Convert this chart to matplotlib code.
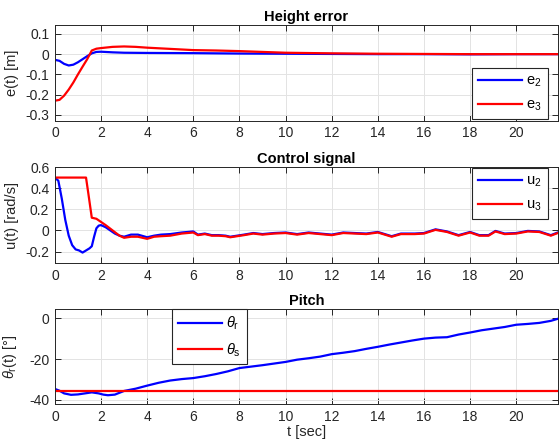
# Height error, control signal and pitch for the two vehicles
import numpy as np
import matplotlib.pyplot as plt

plt.rcParams['font.family'] = ['Liberation Sans', 'DejaVu Sans']
plt.rcParams['mathtext.fontset'] = 'custom'
plt.rcParams['mathtext.rm'] = 'Liberation Sans'
plt.rcParams['mathtext.it'] = 'Liberation Sans:italic'
plt.rcParams['axes.unicode_minus'] = False

# --- data ---
t_e2 = [0, 0.2, 0.4, 0.6, 0.8, 1.0, 1.2, 1.4, 1.6, 1.8, 2.0, 2.5, 3, 4, 6, 8, 10, 12, 14, 16, 18, 20, 21.8]
e2 = [-0.028, -0.033, -0.048, -0.056, -0.052, -0.040, -0.025, -0.010, 0.004, 0.011, 0.012, 0.009, 0.007,
      0.006, 0.005, 0.003, 0.002, 0.001, 0.0, 0.0, -0.001, 0.0, 0.0]

t_e3 = [0, 0.2, 0.4, 0.6, 0.8, 1.0, 1.2, 1.4, 1.6, 1.8, 2.0, 2.5, 3, 3.5, 4, 5, 6, 7, 8, 9, 10, 12, 14, 16, 18, 20, 21.8]
e3 = [-0.230, -0.226, -0.205, -0.175, -0.140, -0.100, -0.062, -0.025, 0.018, 0.027, 0.030, 0.036, 0.038,
      0.036, 0.032, 0.026, 0.020, 0.018, 0.015, 0.011, 0.007, 0.004, 0.002, 0.001, 0.0, 0.0, 0.0]

t_u2 = [0, 0.15, 0.3, 0.45, 0.6, 0.75, 0.9, 1.05, 1.2, 1.35, 1.5, 1.6, 1.7, 1.8, 1.9, 2.0, 2.1, 2.2, 2.4,
        2.6, 2.8, 3.0, 3.3, 3.6, 4.0, 4.3, 4.6, 5.0, 5.5, 6.0, 6.2, 6.5, 6.8, 7.1, 7.4, 7.6, 7.9, 8.2, 8.6,
        9.0, 9.5, 10.0, 10.5, 11.0, 11.5, 12.0, 12.5, 13.0, 13.5, 14.0, 14.6, 15.0, 15.6, 16.0, 16.5, 17.0,
        17.5, 18.0, 18.4, 18.8, 19.1, 19.5, 20.0, 20.5, 21.0, 21.5, 21.8]
u2 = [0.50, 0.47, 0.30, 0.10, -0.05, -0.14, -0.18, -0.19, -0.21, -0.19, -0.17, -0.15, -0.06, 0.02, 0.045,
      0.05, 0.04, 0.03, 0.0, -0.03, -0.05, -0.06, -0.04, -0.04, -0.065, -0.05, -0.04, -0.035, -0.02, -0.01,
      -0.04, -0.03, -0.045, -0.045, -0.05, -0.06, -0.05, -0.04, -0.025, -0.035, -0.025, -0.02, -0.035,
      -0.02, -0.03, -0.04, -0.02, -0.025, -0.03, -0.015, -0.055, -0.03, -0.03, -0.025, 0.01, -0.01,
      -0.045, -0.015, -0.045, -0.045, -0.005, -0.03, -0.025, -0.005, -0.01, -0.045, -0.02]

t_u3 = [0, 0.5, 1.0, 1.35, 1.45, 1.6, 1.8, 2.0, 2.2, 2.5, 2.8, 3.0, 3.3, 3.6, 4.0, 4.3, 4.6, 5.0, 5.5, 6.0,
        6.2, 6.5, 6.8, 7.1, 7.4, 7.6, 7.9, 8.2, 8.6, 9.0, 9.5, 10.0, 10.5, 11.0, 11.5, 12.0, 12.5, 13.0,
        13.5, 14.0, 14.6, 15.0, 15.6, 16.0, 16.5, 17.0, 17.5, 18.0, 18.4, 18.8, 19.1, 19.5, 20.0, 20.5,
        21.0, 21.5, 21.8]
u3 = [0.50, 0.50, 0.50, 0.50, 0.35, 0.12, 0.11, 0.08, 0.05, 0.0, -0.05, -0.07, -0.06, -0.06, -0.08, -0.06,
      -0.055, -0.05, -0.03, -0.02, -0.045, -0.035, -0.05, -0.05, -0.055, -0.065, -0.055, -0.045, -0.03,
      -0.04, -0.03, -0.025, -0.04, -0.025, -0.035, -0.045, -0.025, -0.03, -0.035, -0.02, -0.06, -0.035,
      -0.035, -0.03, 0.005, -0.015, -0.05, -0.02, -0.05, -0.05, -0.01, -0.035, -0.03, -0.01, -0.015,
      -0.05, -0.025]

t_th = [0, 0.2, 0.4, 0.7, 1.0, 1.3, 1.6, 1.9, 2.1, 2.3, 2.6, 3.0, 3.5, 4.0, 4.5, 5.0, 5.5, 6.0, 6.5, 7.0,
        7.5, 8.0, 8.5, 9.0, 9.5, 10.0, 10.5, 11.0, 11.5, 12.0, 12.5, 13.0, 13.5, 14.0, 14.5, 15.0, 15.5,
        16.0, 16.5, 17.0, 17.5, 18.0, 18.5, 19.0, 19.5, 20.0, 20.5, 21.0, 21.5, 21.8]
theta_r = [-34.6, -35.5, -36.8, -37.5, -37.3, -36.8, -36.3, -36.8, -37.4, -37.7, -37.4, -35.6, -34.5,
           -33.0, -31.6, -30.5, -29.8, -29.3, -28.4, -27.3, -26.0, -24.4, -23.7, -23.0, -22.2, -21.4,
           -20.3, -19.6, -18.8, -17.6, -16.9, -16.1, -15.0, -14.0, -12.9, -11.9, -10.9, -10.0, -9.5, -9.3,
           -8.0, -7.0, -5.9, -5.1, -4.3, -3.2, -2.8, -2.3, -1.3, -0.3]
t_ths = [0, 21.8]
theta_s = [-35.5, -35.5]

xticks = np.arange(0, 21, 2)
blue = (0, 0, 1)
red = (1, 0, 0)
dark = '#262626'

fig = plt.figure(figsize=(5.6, 4.43), dpi=100)
ax1 = fig.add_axes([0.098, 0.727, 0.898, 0.217])
ax2 = fig.add_axes([0.098, 0.406, 0.898, 0.217])
ax3 = fig.add_axes([0.098, 0.088, 0.898, 0.214])

# legend look shared by the three panels
leg_kw = dict(handlelength=3.0, handletextpad=0.3, fontsize=10.5, labelspacing=0.6,
              borderpad=0.4, borderaxespad=0, framealpha=1, fancybox=False, edgecolor=dark)

ax1.plot(t_e2, e2, color=blue, lw=1.6, label='e$_2$')
ax1.plot(t_e3, e3, color=red, lw=1.6, label='e$_3$')
ax1.set_ylim(-0.33, 0.145)
ax1.set_yticks([0.1, 0, -0.1, -0.2, -0.3])
ax1.set_yticklabels(['0.1', '0', '-0.1', '-0.2', '-0.3'])
ax1.set_ylabel('e(t) [m]')
ax1.set_title('Height error', fontweight='bold', fontsize=10.5, pad=3)
ax1.legend(loc='lower right', bbox_to_anchor=(0.98, 0.02), **leg_kw)

ax2.plot(t_u2, u2, color=blue, lw=1.6, label='u$_2$')
ax2.plot(t_u3, u3, color=red, lw=1.6, label='u$_3$')
ax2.set_ylim(-0.31, 0.6)
ax2.set_yticks([0.6, 0.4, 0.2, 0, -0.2])
ax2.set_yticklabels(['0.6', '0.4', '0.2', '0', '-0.2'])
ax2.set_ylabel('u(t) [rad/s]')
ax2.set_title('Control signal', fontweight='bold', fontsize=10.5, pad=3)
ax2.legend(loc='upper right', bbox_to_anchor=(0.98, 0.99), **leg_kw)

ax3.plot(t_th, theta_r, color=blue, lw=1.6, label=r'$\theta_\mathrm{r}$')
ax3.plot(t_ths, theta_s, color=red, lw=1.6, label=r'$\theta_\mathrm{s}$')
ax3.set_ylim(-42, 4.4)
ax3.set_yticks([0, -20, -40])
ax3.set_yticklabels(['0', '-20', '-40'])
ax3.set_ylabel(r'$\theta_\mathrm{r}$(t) [°]')
ax3.set_xlabel('t [sec]', labelpad=1)
ax3.set_title('Pitch', fontweight='bold', fontsize=10.5, pad=3)
ax3.legend(loc='upper left', bbox_to_anchor=(0.233, 1.0), **leg_kw)

for ax in (ax1, ax2, ax3):
    ax.set_xlim(0, 21.8)
    ax.set_xticks(xticks)
    ax.grid(True, color='#e3e3e3', lw=0.7)
    ax.set_axisbelow(True)
    ax.tick_params(direction='in', top=True, right=True, length=4, width=0.7,
                   colors=dark, labelsize=10, pad=4)
    for s in ax.spines.values():
        s.set_color(dark)
        s.set_linewidth(0.7)
    ax.yaxis.label.set_color(dark)
    ax.yaxis.label.set_fontsize(10.5)
    ax.yaxis.set_label_coords(-0.072, 0.5)
    ax.get_legend().get_frame().set_linewidth(0.8)

ax3.xaxis.label.set_color(dark)
ax3.xaxis.label.set_fontsize(10.5)

fig.savefig('out.png', dpi=100)
